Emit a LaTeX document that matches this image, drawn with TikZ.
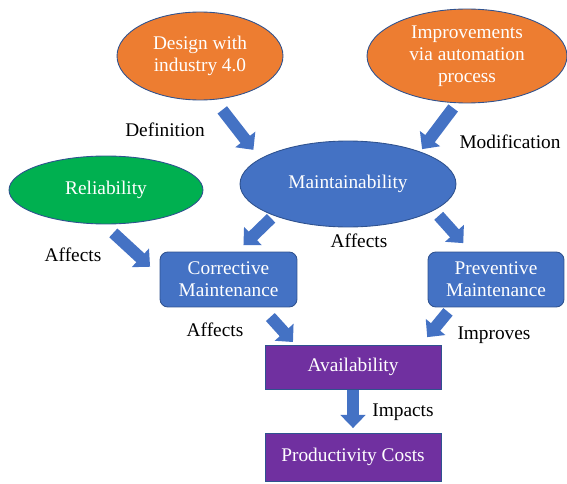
\documentclass[tikz,border=0pt]{standalone}
\usepackage{fontspec}
\setmainfont{Liberation Serif}
\usetikzlibrary{arrows.meta, shapes.geometric, positioning}

\definecolor{offorange}{HTML}{ED7D31}
\definecolor{offblue}{HTML}{4472C4}
\definecolor{offgreen}{HTML}{00B050}
\definecolor{offpurple}{HTML}{7030A0}
\definecolor{offline}{HTML}{2F528F}

\begin{document}
\begin{tikzpicture}
  [x = 0.02cm, y = -0.02cm,
   font = \fontsize{11}{12.5}\selectfont,
   box/.style = {draw=offline, line width=0.5pt, text=white, align=center,
     inner sep=0pt, outer sep=0pt},
   goal/.style = {box, ellipse, fill=offorange},
   quality/.style = {box, ellipse, fill=offblue},
   task/.style = {box, rectangle, rounded corners=4.5pt, fill=offblue},
   metric/.style = {box, rectangle, fill=offpurple},
   flow/.style = {draw=offblue, line width=6.8pt,
     -{Triangle[width=14pt, length=7.5pt]}},
   tag/.style = {text=black}]

  \useasboundingbox (0,0) rectangle (567,483);

  \node[goal, minimum width=3.32cm, minimum height=1.76cm]
    (design) at (200,56) {Design with\\industry 4.0};
  \node[goal, minimum width=4.0cm, minimum height=1.88cm]
    (improvements) at (467,56) {Improvements\\via automation\\process};
  \node[quality, minimum width=4.32cm, minimum height=1.72cm]
    (maintainability) at (348,184) {Maintainability};
  \node[quality, fill=offgreen, minimum width=3.88cm, minimum height=1.36cm]
    (reliability) at (106,190) {Reliability};

  \node[task, minimum width=2.74cm, minimum height=1.1cm]
    (corrective) at (228.5,279.5) {Corrective\\Maintenance};
  \node[task, minimum width=2.72cm, minimum height=1.1cm]
    (preventive) at (496,279.5) {Preventive\\Maintenance};

  \node[metric, minimum width=3.52cm, minimum height=0.88cm]
    (availability) at (353,367) {Availability};
  \node[metric, minimum width=3.52cm, minimum height=0.96cm]
    (productivity) at (353,457) {Productivity Costs};

  % block arrows
  \draw[flow, shorten <=7.6pt, shorten >=6.5pt]
    (design.-72.6) -- (maintainability.164.1);
  \draw[flow, shorten <=3.7pt, shorten >=2pt]
    (improvements.-102) -- (maintainability.24.2);
  \draw[flow, shorten <=2.4pt, shorten >=5.6pt]
    (maintainability.-157.5) -- (corrective.74.7);
  \draw[flow, shorten <=4.3pt, shorten >=6.8pt]
    (maintainability.-17.3) -- (preventive.132.3);
  \draw[flow, shorten <=7.5pt, shorten >=7.7pt]
    (reliability.-94.7) -- (corrective.177.1);
  \draw[flow, shorten <=7.7pt, shorten >=2.3pt]
    (corrective.-40.4) -- (availability.159);
  \draw[flow, shorten <=3.6pt, shorten >=5.8pt]
    (preventive.-148.6) -- (availability.18);
  \draw[flow, shorten <=0.6pt, shorten >=2.8pt]
    (availability.south) -- (productivity.north);

  % labels
  \node[tag] (definition)   at (165,130) {Definition};
  \node[tag] (modification) at (510,142) {Modification};
  \node[tag] (affects rel)  at (73,255)  {Affects};
  \node[tag] (affects mnt)  at (359,241) {Affects};
  \node[tag] (affects cor)  at (215,330) {Affects};
  \node[tag] (improves)     at (494,335) {Improves};
  \node[tag] (impacts)      at (403,412) {Impacts};
\end{tikzpicture}
\end{document}
